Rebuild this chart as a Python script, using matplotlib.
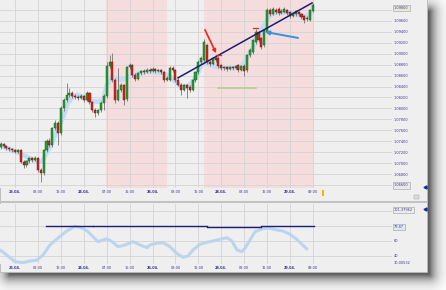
import numpy as np
import matplotlib
matplotlib.use("Agg")
import matplotlib.pyplot as plt
from matplotlib.patches import Rectangle

# ---------------- data ----------------
opens = [1.0729, 1.0735, 1.0731, 1.0728, 1.0726, 1.0724, 1.0720, 1.0724, 1.0702, 1.0697,
         1.0704, 1.0709, 1.0706, 1.0709, 1.0687, 1.0682, 1.0724, 1.0740, 1.0733, 1.0764,
         1.0773, 1.0755, 1.0801, 1.0815, 1.0825, 1.0828, 1.0823, 1.0821, 1.0819, 1.0823,
         1.0815, 1.0828, 1.0812, 1.0797, 1.0792, 1.0797, 1.0810, 1.0823, 1.0878, 1.0885,
         1.0852, 1.0815, 1.0834, 1.0843, 1.0817, 1.0876, 1.0879, 1.0861, 1.0854, 1.0865,
         1.0868, 1.0867, 1.0870, 1.0868, 1.0872, 1.0868, 1.0870, 1.0867, 1.0852, 1.0852,
         1.0874, 1.0870, 1.0852, 1.0843, 1.0834, 1.0843, 1.0839, 1.0834, 1.0852, 1.0867,
         1.0885, 1.0889, 1.0916, 1.0885, 1.0881, 1.0892, 1.0892, 1.0879, 1.0874, 1.0876,
         1.0872, 1.0876, 1.0874, 1.0879, 1.0870, 1.0878, 1.0870, 1.0898, 1.0903, 1.0922,
         1.0940, 1.0929, 1.0916, 1.0940, 1.0980, 1.0973, 1.0980, 1.0982, 1.0975, 1.0976,
         1.0980, 1.0976, 1.0969, 1.0973, 1.0976, 1.0973, 1.0969, 1.0964, 1.0962, 1.0978]
highs = [1.0739, 1.0737, 1.0733, 1.0729, 1.0728, 1.0726, 1.0726, 1.0726, 1.0706, 1.0706,
         1.0711, 1.0711, 1.0713, 1.0711, 1.0691, 1.0726, 1.0744, 1.0746, 1.0766, 1.0779,
         1.0777, 1.0804, 1.0819, 1.0847, 1.0837, 1.0832, 1.0826, 1.0825, 1.0826, 1.0825,
         1.0832, 1.0830, 1.0813, 1.0801, 1.0799, 1.0813, 1.0826, 1.0885, 1.0898, 1.0901,
         1.0856, 1.0874, 1.0847, 1.0845, 1.0878, 1.0883, 1.0881, 1.0865, 1.0867, 1.0870,
         1.0872, 1.0874, 1.0874, 1.0876, 1.0874, 1.0872, 1.0872, 1.0868, 1.0859, 1.0878,
         1.0878, 1.0872, 1.0856, 1.0847, 1.0845, 1.0845, 1.0843, 1.0854, 1.0868, 1.0889,
         1.0896, 1.0927, 1.0918, 1.0889, 1.0894, 1.0896, 1.0896, 1.0881, 1.0878, 1.0878,
         1.0878, 1.0878, 1.0879, 1.0881, 1.0879, 1.0881, 1.0900, 1.0911, 1.0927, 1.0945,
         1.0942, 1.0931, 1.0945, 1.0984, 1.0984, 1.0986, 1.0984, 1.0986, 1.0982, 1.0986,
         1.0982, 1.0978, 1.0976, 1.0980, 1.0978, 1.0975, 1.0971, 1.0969, 1.0982, 1.0993]
lows = [1.0726, 1.0728, 1.0724, 1.0722, 1.0720, 1.0718, 1.0718, 1.0700, 1.0691, 1.0693,
        1.0700, 1.0702, 1.0704, 1.0684, 1.0665, 1.0678, 1.0720, 1.0729, 1.0729, 1.0761,
        1.0733, 1.0751, 1.0795, 1.0812, 1.0821, 1.0819, 1.0817, 1.0815, 1.0817, 1.0812,
        1.0813, 1.0808, 1.0793, 1.0784, 1.0788, 1.0793, 1.0797, 1.0819, 1.0874, 1.0848,
        1.0810, 1.0813, 1.0830, 1.0806, 1.0813, 1.0872, 1.0857, 1.0850, 1.0852, 1.0861,
        1.0863, 1.0865, 1.0865, 1.0867, 1.0865, 1.0867, 1.0863, 1.0848, 1.0850, 1.0850,
        1.0867, 1.0848, 1.0841, 1.0825, 1.0832, 1.0819, 1.0830, 1.0832, 1.0848, 1.0863,
        1.0881, 1.0885, 1.0881, 1.0878, 1.0879, 1.0885, 1.0874, 1.0870, 1.0870, 1.0868,
        1.0870, 1.0870, 1.0872, 1.0867, 1.0868, 1.0859, 1.0867, 1.0894, 1.0900, 1.0918,
        1.0922, 1.0909, 1.0912, 1.0938, 1.0969, 1.0971, 1.0973, 1.0971, 1.0973, 1.0975,
        1.0971, 1.0965, 1.0967, 1.0969, 1.0969, 1.0964, 1.0956, 1.0960, 1.0960, 1.0976]
closes = [1.0735, 1.0731, 1.0728, 1.0726, 1.0724, 1.0720, 1.0724, 1.0702, 1.0697, 1.0704,
          1.0709, 1.0706, 1.0709, 1.0687, 1.0682, 1.0724, 1.0740, 1.0733, 1.0764, 1.0773,
          1.0755, 1.0801, 1.0815, 1.0825, 1.0828, 1.0823, 1.0821, 1.0819, 1.0823, 1.0815,
          1.0828, 1.0812, 1.0797, 1.0792, 1.0797, 1.0810, 1.0823, 1.0878, 1.0885, 1.0852,
          1.0815, 1.0834, 1.0843, 1.0815, 1.0876, 1.0879, 1.0861, 1.0854, 1.0865, 1.0868,
          1.0867, 1.0870, 1.0868, 1.0872, 1.0868, 1.0870, 1.0867, 1.0852, 1.0856, 1.0874,
          1.0870, 1.0852, 1.0843, 1.0834, 1.0843, 1.0837, 1.0834, 1.0852, 1.0867, 1.0885,
          1.0892, 1.0922, 1.0885, 1.0881, 1.0892, 1.0889, 1.0878, 1.0874, 1.0876, 1.0872,
          1.0876, 1.0874, 1.0878, 1.0870, 1.0878, 1.0868, 1.0898, 1.0907, 1.0925, 1.0940,
          1.0925, 1.0912, 1.0944, 1.0980, 1.0973, 1.0982, 1.0976, 1.0975, 1.0978, 1.0982,
          1.0975, 1.0969, 1.0975, 1.0978, 1.0973, 1.0967, 1.0962, 1.0965, 1.0980, 1.0989]

# moving-average band (bar index, price)
ma_idx = [-0.24, 5.7, 11.3, 14.4, 16.2, 18.3, 20.0, 21.8, 23.5, 25.2, 26.6, 28.7, 31.2, 33.6,
          35.7, 37.1, 39.2, 41.6, 44.1, 46.2, 48.6, 51.1, 52.1, 56.7, 59.1, 61.5, 63.6, 66.1,
          68.5, 70.6, 73.1, 75.5, 82.5, 84.6, 87.0, 89.5, 91.6, 94.0, 96.5, 101.0, 103.8,
          106.9, 108.7]
ma_val = [1.0733, 1.0720, 1.0706, 1.0702, 1.0720, 1.0742, 1.0764, 1.0784, 1.0810, 1.0821,
          1.0825, 1.0821, 1.0815, 1.0812, 1.0815, 1.0843, 1.0858, 1.0852, 1.0856, 1.0861,
          1.0865, 1.0867, 1.0867, 1.0865, 1.0858, 1.0847, 1.0839, 1.0843, 1.0861, 1.0885,
          1.0880, 1.0876, 1.0874, 1.0880, 1.0901, 1.0925, 1.0949, 1.0971, 1.0976, 1.0975,
          1.0971, 1.0969, 1.0976]

# oscillator (lower panel)
osc_idx = [-0.2, 2.1, 5.0, 7.8, 10.2, 12.6, 14.8, 17.2, 20.0, 23.1, 25.9, 28.4, 30.5, 32.2,
           34.0, 35.7, 37.1, 38.9, 41.0, 43.4, 46.2, 48.6, 51.1, 52.1, 54.5, 56.7, 59.1, 61.4,
           63.6, 65.4, 67.1, 69.6, 72.0, 74.1, 76.6, 79.0, 80.7, 82.5, 84.2, 85.3, 87.0, 88.8,
           91.3, 93.3, 96.4, 98.5, 101.0, 103.4, 106.9]
osc_val = [48, 41.3, 32.4, 31.1, 33.3, 34.3, 41.3, 54.7, 64, 73.3, 79.6, 77.3, 72.4, 65.7,
           59.1, 61.3, 62.7, 59.1, 52.4, 54.7, 59.1, 54.7, 51.1, 54.7, 57, 57.7, 52.4, 43.6,
           38.3, 40, 48, 55.6, 58.3, 60, 62.3, 64.4, 60, 48, 45.7, 50.3, 61.3, 72.4, 76,
           77.5, 74.7, 73.3, 68.9, 62, 49.3]
level_edges = [15.8, 32.2, 72.0, 91.0, 109.4]
level_vals = [80.2, 79.4, 78.4, 79.87]

tick_idx = [5, 13, 21, 29, 37, 45, 53, 61, 69, 77, 85, 93, 101, 109]
tick_labels = ["23.04.", "08:00", "16:00", "24.04.", "07:00", "15:00", "26.04.",
               "08:00", "16:00", "28.04.", "08:00", "16:00", "29.04.", "09:00"]
price_grid = [1.066, 1.068, 1.070, 1.072, 1.074, 1.076, 1.078, 1.080, 1.082, 1.084,
              1.086, 1.088, 1.090, 1.092, 1.094, 1.096, 1.098]
osc_grid = [40, 60, 80, 100]
shade_spans = [(36.9, 57.9), (70.8, 109.4)]

trend_x = [61.9, 108.7]
trend_y = [1.0856, 1.0993]
green_x = [75.7, 89.0]
green_y = 1.0837
red_arrow = [(71.3, 1.0944), (75.2, 1.0901)]
blue_arrow = [(103.8, 1.0929), (92.3, 1.0940)]
signal_marks = [(76, 1.0898), (89, 1.0947)]

# ---------------- figure ----------------
W, H = 446, 290
fig = plt.figure(figsize=(W / 100, H / 100), dpi=100)
fig.patch.set_facecolor("white")

bg = fig.add_axes([0, 0, 1, 1], zorder=-10)
bg.set_xlim(0, W)
bg.set_ylim(H, 0)
bg.axis("off")
yy, xx = np.mgrid[0:H, 0:W] + 0.5
x0, x1, y0, y1 = 10, 429, 12, 274
dx = np.maximum(0, np.maximum(x0 - xx, xx - x1))
dy = np.maximum(0, np.maximum(y0 - yy, yy - y1))
d = np.hypot(dx, dy)
shade = 0.62 * np.exp(-(d / 7.5) ** 1.2)
img = np.clip(1 - shade, 0, 1)[..., None] * np.ones(3)
bg.imshow(img, extent=(0, W, H, 0), interpolation="bilinear", aspect="auto")
bg.add_patch(Rectangle((0, -1), 427, 273, facecolor="#efefef", edgecolor="#b8b8b8", lw=0.6))
bg.add_patch(Rectangle((0, 200.5), 427, 2.5, facecolor="#c2c2c2", edgecolor="none"))
bg.add_patch(Rectangle((322, 189.5), 2.2, 6, facecolor="#f2b705", edgecolor="none"))
bg.add_patch(Rectangle((414, 195), 5, 4, facecolor="#dcdcdc", edgecolor="#9a9a9a", lw=0.3))
bg.plot([425, 425], [187, 209], ls="none", marker="<", ms=2.2, color="#1b2a9c")

XL = (-0.24, 136.6)
lab_col = "#35358a"

def style(ax):
    ax.set_facecolor("#efefef")
    for s in ax.spines.values():
        s.set_visible(False)
    ax.set_xlim(*XL)
    ax.set_xticks(tick_idx)
    ax.set_xticklabels(tick_labels)
    ax.yaxis.tick_right()
    ax.tick_params(axis="both", length=0, labelsize=2.5, labelcolor=lab_col)
    ax.tick_params(axis="x", pad=1.6)
    ax.tick_params(axis="y", pad=1.0)
    ax.set_axisbelow(True)
    ax.grid(True, color="#d4d4d4", lw=0.6)
    for t in ax.get_xticklabels():
        if t.get_text().endswith("."):
            t.set_fontweight("bold")

def boxed(ax, y, text, fc, tc):
    ax.annotate(text, xy=(1, y), xycoords=("axes fraction", "data"), xytext=(1.4, 0),
                textcoords="offset points", ha="left", va="center", fontsize=2.5, color=tc,
                bbox=dict(boxstyle="square,pad=0.35", fc=fc, ec="#9c9c9c", lw=0.4),
                annotation_clip=False)

# ---- main price panel ----
ax = fig.add_axes([0, 1 - 188 / H, 392 / W, 188 / H])
style(ax)
ax.set_ylim(1.06544, 1.09984)
ax.set_yticks(price_grid)
ax.set_yticklabels(["" if (p < 1.067 or p > 1.097) else "%.5f" % p for p in price_grid])
for a, b in shade_spans:
    ax.axvspan(a, b, color="#f6dddd", lw=0, zorder=0.2)

ax.plot(ma_idx, ma_val, color="#c5dbf2", lw=3.3, solid_capstyle="round",
        solid_joinstyle="round", zorder=2)

idx = np.arange(len(opens))
o, h, l, c = map(np.array, (opens, highs, lows, closes))
up = c >= o
ax.vlines(idx, l, h, color="#6a6a6a", lw=0.55, zorder=3)
ax.bar(idx[up], np.maximum(c - o, 0.00004)[up], bottom=o[up], width=0.72,
       color="#1fa52e", edgecolor="#1d4a1d", lw=0.3, zorder=4)
ax.bar(idx[~up], (o - c)[~up], bottom=c[~up], width=0.72,
       color="#d8231b", edgecolor="#5a1a16", lw=0.3, zorder=4)

ax.plot(trend_x, trend_y, color="#1c1c74", lw=1.1, zorder=5)
ax.plot(green_x, [green_y, green_y], color="#a9d18a", lw=1.1, zorder=5)
for sx, sy in signal_marks:
    ax.plot([sx - 0.9, sx + 0.9], [sy, sy], color="#e02a20", lw=0.9, zorder=6)
ax.annotate("", xy=red_arrow[1], xytext=red_arrow[0],
            arrowprops=dict(arrowstyle="-|>", color="#e8291c", lw=1.2, mutation_scale=5,
                            shrinkA=0, shrinkB=0), zorder=7)
ax.annotate("", xy=blue_arrow[1], xytext=blue_arrow[0],
            arrowprops=dict(arrowstyle="-|>", color="#3b8fe2", lw=1.4, mutation_scale=5.5,
                            shrinkA=0, shrinkB=0), zorder=7)
boxed(ax, closes[-1] - 0.0005, "1.09800", "#e9e9da", lab_col)
boxed(ax, 1.0659, "1.06600", "#e9e9e9", lab_col)

# ---- oscillator panel ----
ax2 = fig.add_axes([0, 1 - 264 / H, 392 / W, 60 / H])
style(ax2)
ax2.set_ylim(29.3, 109.3)
ax2.set_yticks(osc_grid)
ax2.set_yticklabels(["40", "60", "", ""])
ax2.plot(osc_idx, osc_val, color="#bcd5ef", lw=2.2, solid_capstyle="round",
         solid_joinstyle="round", zorder=3)
for k, v in enumerate(level_vals):
    ax2.plot([level_edges[k], level_edges[k + 1]], [v, v], color="#1c1c7a", lw=1.0, zorder=4)
boxed(ax2, 101.38, "101.37962", "#ececec", lab_col)
boxed(ax2, level_vals[-1] - 1.5, "79.87", "#e6e6f0", "#3a4ab0")
ax2.annotate("30.00532", xy=(1, 30.6), xycoords=("axes fraction", "data"), xytext=(1.4, 0),
             textcoords="offset points", ha="left", va="center", fontsize=2.5,
             color=lab_col, annotation_clip=False)

fig.savefig("out.png", dpi=100)
